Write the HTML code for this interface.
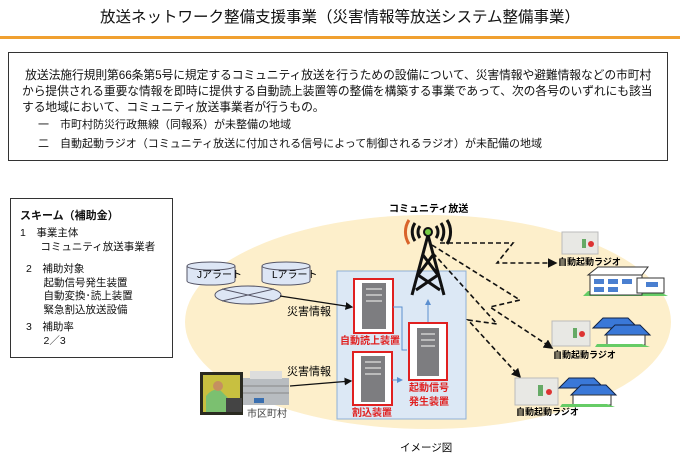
<!DOCTYPE html>
<html><head><meta charset="utf-8">
<style>
html,body{margin:0;padding:0;background:#fff;}
body{width:680px;height:471px;position:relative;overflow:hidden;font-family:"Liberation Sans","Noto Sans CJK JP",sans-serif;color:#111;}
.t{position:absolute;white-space:nowrap;}
</style></head><body>
<div class="t" style="left:0;width:680px;text-align:center;top:5px;font-size:15.5px;">放送ネットワーク整備支援事業（災害情報等放送システム整備事業）</div>
<div style="position:absolute;left:0;top:36px;width:680px;height:3px;background:#f0a030;"></div>
<div style="position:absolute;left:8px;top:52px;width:658px;height:107px;border:1px solid #333;"></div>
<div class="t" style="left:22px;top:67px;font-size:11.8px;line-height:16px;letter-spacing:-0.1px;">&nbsp;放送法施行規則第66条第5号に規定するコミュニティ放送を行うための設備について、災害情報や避難情報などの市町村<br>から提供される重要な情報を即時に提供する自動読上装置等の整備を構築する事業であって、次の各号のいずれにも該当<br>する地域において、コミュニティ放送事業者が行うもの。</div>
<div class="t" style="left:38px;top:116px;font-size:11px;">一　市町村防災行政無線（同報系）が未整備の地域</div>
<div class="t" style="left:38px;top:135px;font-size:11px;">二　自動起動ラジオ（コミュニティ放送に付加される信号によって制御されるラジオ）が未配備の地域</div>

<div style="position:absolute;left:10px;top:198px;width:161px;height:158px;border:1px solid #333;"></div>
<div class="t" style="left:20px;top:207px;font-size:11px;font-weight:bold;">スキーム（補助金）</div>
<div class="t" style="left:20px;top:227px;font-size:10.5px;line-height:13.5px;">1　事業主体<br>&nbsp;&nbsp;&nbsp;&nbsp;&nbsp;&nbsp;&nbsp;コミュニティ放送事業者</div>
<div class="t" style="left:26px;top:263px;font-size:10.5px;line-height:13.5px;">2　補助対象<br>&nbsp;&nbsp;&nbsp;&nbsp;&nbsp;&nbsp;起動信号発生装置<br>&nbsp;&nbsp;&nbsp;&nbsp;&nbsp;&nbsp;自動変換･読上装置<br>&nbsp;&nbsp;&nbsp;&nbsp;&nbsp;&nbsp;緊急割込放送設備</div>
<div class="t" style="left:26px;top:321px;font-size:10.5px;line-height:13.5px;">3　補助率<br>&nbsp;&nbsp;&nbsp;&nbsp;&nbsp;&nbsp;2／3</div>

<svg style="position:absolute;left:0;top:0" width="680" height="471" font-family="Liberation Sans, Noto Sans CJK JP, sans-serif">
<defs><marker id="a" markerWidth="6" markerHeight="6" refX="5" refY="3" orient="auto"><path d="M0,0L6,3L0,6z" fill="#111"/></marker>
<marker id="b" markerWidth="6" markerHeight="6" refX="5" refY="3" orient="auto"><path d="M0,0L6,3L0,6z" fill="#5b8fd0"/></marker></defs>
<ellipse cx="428" cy="322" rx="243" ry="107" fill="#fdefcb"/>
<g fill="#dde6f5" stroke="#556" stroke-width="1">
<path d="M187,266v15a24,4 0 0 0 48,0v-15"/><ellipse cx="211" cy="266" rx="24" ry="4"/>
<path d="M262,266v15a24,4 0 0 0 48,0v-15"/><ellipse cx="286" cy="266" rx="24" ry="4"/>
<ellipse cx="248" cy="295" rx="33" ry="9"/>
</g>
<line x1="222" y1="289" x2="274" y2="301" stroke="#556"/><line x1="222" y1="301" x2="274" y2="289" stroke="#556"/>
<text x="197" y="278" font-size="10">Jアラート</text><text x="272" y="278" font-size="10">Lアラート</text>
<rect x="337" y="271" width="129" height="148" fill="#dce8f5" stroke="#8fb0d6"/>
<g fill="#fff" stroke="#e02020" stroke-width="2">
<rect x="354" y="279" width="39" height="54"/><rect x="353" y="352" width="39" height="53"/><rect x="409" y="323" width="38" height="57"/>
</g>
<g fill="#7d7d80"><rect x="362" y="283" width="24" height="46"/><rect x="361" y="356" width="24" height="46"/><rect x="417" y="328" width="22" height="48"/></g>
<g fill="#bbb"><rect x="366" y="288" width="16" height="2"/><rect x="366" y="294" width="16" height="2"/><rect x="366" y="300" width="16" height="2"/><rect x="365" y="361" width="16" height="2"/><rect x="365" y="367" width="16" height="2"/><rect x="365" y="373" width="16" height="2"/><rect x="421" y="333" width="14" height="2"/><rect x="421" y="339" width="14" height="2"/><rect x="421" y="345" width="14" height="2"/></g>
<g fill="#e02020" font-size="10" font-weight="bold"><text x="340" y="344">自動読上装置</text><text x="352" y="416">割込装置</text><text x="409" y="391">起動信号</text><text x="409" y="405">発生装置</text></g>
<path d="M393,307H402V350H407M392,380H402" fill="none" stroke="#5b8fd0" marker-end="url(#b)"/>
<line x1="428" y1="322" x2="428" y2="300" stroke="#5b8fd0" marker-end="url(#b)"/>
<g stroke="#111" stroke-width="3" fill="none">
<path d="M428,235L412,295M428,235L444,295M423,255L438,275L416,290M433,255L418,275L440,290"/>
<path d="M420,238a10,10 0 0 1 0,-12M415,241a16,16 0 0 1 0,-18M436,238a10,10 0 0 0 0,-12M441,241a16,16 0 0 0 0,-18M447,244a22,22 0 0 0 0,-24"/>
<path d="M409,244a22,22 0 0 1 0,-24" stroke="#d9632a"/>
</g>
<circle cx="428" cy="232" r="4" fill="#7c4" stroke="#111" stroke-width="2"/>
<text x="389" y="212" font-size="10" font-weight="bold">コミュニティ放送</text>
<g stroke="#111" stroke-width="1.6" stroke-dasharray="5,3" fill="none" marker-end="url(#a)">
<path d="M440,243H513L497,263H556"/>
<path d="M432,245L520,300L490,307L552,348"/>
<path d="M433,253L497,324L468,320L520,377"/>
</g>
<text x="287" y="315" font-size="11">災害情報</text><text x="287" y="375" font-size="11">災害情報</text>
<line x1="280" y1="296" x2="352" y2="307" stroke="#111" stroke-width="1.3" marker-end="url(#a)"/>
<line x1="290" y1="386" x2="351" y2="381" stroke="#111" stroke-width="1.3" marker-end="url(#a)"/>
<rect x="200" y="372" width="43" height="43" fill="#2a2a20"/><rect x="203" y="375" width="37" height="37" fill="#c8c040"/>
<path d="M206,412v-16q6,-8 14,-6l8,8v14z" fill="#7bc070"/><circle cx="218" cy="386" r="5" fill="#c59060"/>
<rect x="226" y="398" width="16" height="14" fill="#444"/>
<rect x="243" y="378" width="46" height="27" fill="#b8bcc0"/><rect x="250" y="371" width="32" height="8" fill="#ddd"/>
<g stroke="#888"><line x1="243" y1="386" x2="289" y2="386"/><line x1="243" y1="393" x2="289" y2="393"/></g>
<rect x="254" y="398" width="10" height="5" fill="#3a6fb0"/>
<text x="247" y="417" font-size="10" fill="#444">市区町村</text>
<g fill="#e8e8e4" stroke="#bbb"><rect x="562" y="232" width="36" height="22"/><rect x="552" y="321" width="38" height="25"/><rect x="515" y="378" width="43" height="27"/></g>
<g fill="#d33"><circle cx="591" cy="244" r="3"/><circle cx="582" cy="334" r="3"/><circle cx="549" cy="392" r="3"/></g>
<g fill="#6a6"><rect x="582" y="239" width="4" height="9"/><rect x="573" y="328" width="4" height="10"/><rect x="538" y="385" width="5" height="11"/></g>
<g font-size="9" font-weight="bold"><text x="558" y="265">自動起動ラジオ</text><text x="553" y="358">自動起動ラジオ</text><text x="516" y="415">自動起動ラジオ</text></g>
<path d="M583,296l85,0l-10,-5h-70z" fill="#6c6"/>
<rect x="590" y="275" width="52" height="20" fill="#fff" stroke="#333"/><rect x="637" y="278" width="27" height="15" fill="#fff" stroke="#333"/>
<path d="M588,275l10,-8h50l-6,8z" fill="#fff" stroke="#333"/>
<g fill="#4a7fd0"><rect x="594" y="279" width="10" height="5"/><rect x="608" y="279" width="10" height="5"/><rect x="622" y="279" width="10" height="5"/><rect x="594" y="287" width="10" height="5"/><rect x="608" y="287" width="10" height="5"/><rect x="646" y="282" width="12" height="5"/></g>
<g fill="#3a78d8" stroke="#124"><path d="M593,328l10,-10h25l10,10z"/><path d="M605,335l10,-10h25l10,10z"/><path d="M559,388l10,-10h25l10,10z"/><path d="M571,395l10,-10h25l10,10z"/></g>
<g fill="#fff" stroke="#333"><rect x="607" y="335" width="38" height="10"/><rect x="573" y="395" width="38" height="10"/></g>
<path d="M595,347l55,0l-8,-3h-45z" fill="#6c6"/><path d="M560,407l55,0l-8,-3h-45z" fill="#6c6"/>
<text x="400" y="451" font-size="10.5">イメージ図</text>
</svg>
</body></html>
